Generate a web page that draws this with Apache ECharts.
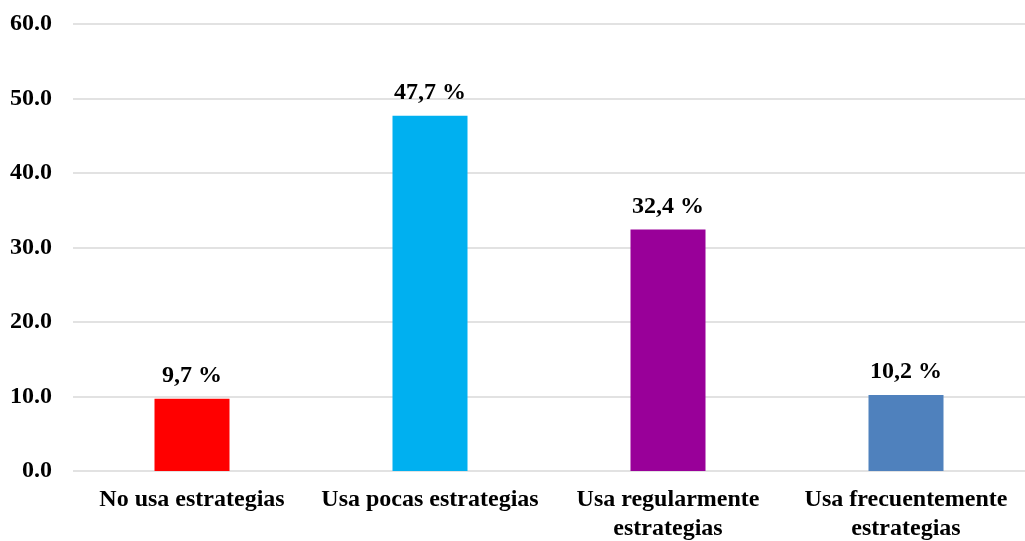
<!DOCTYPE html>
<html>
<head>
<meta charset="utf-8">
<style>
  html, body { margin: 0; padding: 0; background: #fff; }
  #chart { width: 1025px; height: 541px; }
</style>
<script src="https://cdn.jsdelivr.net/npm/echarts@6/dist/echarts.min.js"></script>
</head>
<body>
<div id="chart"></div>
<script>
// Strategy usage levels (percent of respondents)
const categories = [
  'No usa estrategias',
  'Usa pocas estrategias',
  'Usa regularmente\nestrategias',
  'Usa frecuentemente\nestrategias'
];
const percentages = [9.7, 47.7, 32.4, 10.2];
const barColors = ['#FF0000', '#00B0F0', '#990099', '#4F81BD'];

const serif = '"Liberation Serif", "Times New Roman", serif';

const chart = echarts.init(document.getElementById('chart'));
chart.setOption({
  animation: false,
  grid: { left: 73, right: 0, top: 24, bottom: 70, outerBoundsMode: 'none' },
  xAxis: {
    type: 'category',
    data: categories,
    axisLine: { show: false },
    axisTick: { show: false },
    axisLabel: {
      interval: 0,
      margin: 14,
      color: '#000',
      fontFamily: serif,
      fontWeight: 'bold',
      fontSize: 24,
      lineHeight: 29
    }
  },
  yAxis: {
    type: 'value',
    min: 0,
    max: 60,
    interval: 10,
    axisLine: { show: false },
    axisTick: { show: false },
    splitLine: { lineStyle: { color: '#d9d9d9', width: 1.5 } },
    axisLabel: {
      margin: 21,
      color: '#000',
      fontFamily: serif,
      fontWeight: 'bold',
      fontSize: 24,
      formatter: v => v.toFixed(1)
    }
  },
  series: [{
    type: 'bar',
    barWidth: 75,
    data: percentages.map((v, i) => ({ value: v, itemStyle: { color: barColors[i] } })),
    label: {
      show: true,
      position: 'top',
      distance: 11,
      color: '#000',
      fontFamily: serif,
      fontWeight: 'bold',
      fontSize: 24,
      formatter: p => p.value.toFixed(1).replace('.', ',') + ' %'
    }
  }]
});
</script>
</body>
</html>
